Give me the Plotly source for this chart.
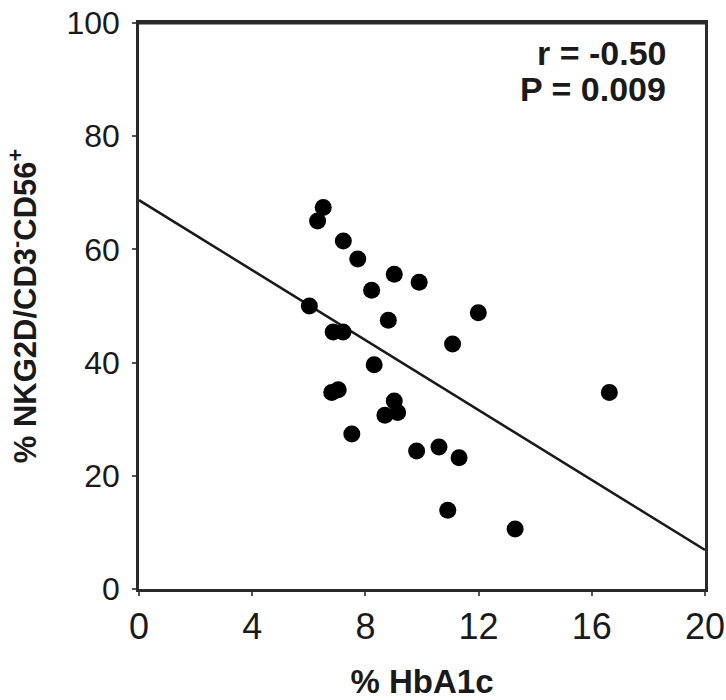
import plotly.graph_objects as go

# Data
hba1c = [6.51, 6.31, 7.22, 7.73, 9.02, 9.90, 8.22, 6.02, 11.99, 8.81,
         6.86, 7.21, 11.08, 8.31, 6.81, 7.04, 9.02, 8.69, 9.14, 7.52,
         9.81, 10.60, 11.31, 10.91, 13.29, 16.62]
nkg2d = [67.4, 65.0, 61.5, 58.3, 55.6, 54.2, 52.8, 50.0, 48.8, 47.5,
         45.4, 45.4, 43.3, 39.6, 34.7, 35.2, 33.2, 30.7, 31.2, 27.4,
         24.4, 25.1, 23.2, 13.9, 10.6, 34.7]

# Regression line (intercept, slope)
fit_intercept = 68.7
fit_slope = -3.09
fit_x = [0, 20]
fit_y = [fit_intercept + fit_slope * v for v in fit_x]

x_ticks = [0, 4, 8, 12, 16, 20]
y_ticks = [0, 20, 40, 60, 80, 100]

stats_lines = ["r = -0.50", "P = 0.009"]

FONT = "Arial, Liberation Sans, sans-serif"
INK = "#1a1a1a"
FRAME = "#2a2a2a"

fig = go.Figure()
fig.add_trace(go.Scatter(x=fit_x, y=fit_y, mode="lines",
                         line=dict(color=INK, width=2.5),
                         hoverinfo="skip", showlegend=False))
fig.add_trace(go.Scatter(x=hba1c, y=nkg2d, mode="markers",
                         marker=dict(color="black", size=17, line=dict(width=0)),
                         showlegend=False, cliponaxis=False))

fig.update_layout(
    width=726, height=700,
    margin=dict(l=139, r=21, t=23, b=111),
    paper_bgcolor="white", plot_bgcolor="white",
    font=dict(family=FONT, color=INK),
    showlegend=False,
)

# top border of the plot frame, drawn explicitly
fig.add_shape(type="line", xref="paper", yref="paper", x0=0, x1=1, y0=1, y1=1,
              line=dict(color=FRAME, width=3), layer="above")

fig.update_xaxes(
    automargin=False,
    range=[0, 20], tickvals=x_ticks, ticktext=[str(v) for v in x_ticks],
    showgrid=False, zeroline=False,
    showline=True, linecolor=FRAME, linewidth=2.5, mirror=True,
    ticks="outside", ticklen=4, tickwidth=1.5, tickcolor="#555",
    tickfont=dict(size=36, family=FONT, color=INK),
    title=dict(text="<b>% HbA1c</b>", font=dict(size=33, family=FONT, color=INK),
               standoff=24),
)
fig.update_yaxes(
    automargin=False,
    range=[0, 100], tickvals=y_ticks, ticktext=[str(v) for v in y_ticks],
    showgrid=False, zeroline=False,
    showline=True, linecolor=FRAME, linewidth=2.5, mirror=True,
    ticks="outside", ticklen=4, tickwidth=1.5, tickcolor="#555",
    tickfont=dict(size=32, family=FONT, color=INK),
    ticklabelstandoff=6,
    title=dict(text="<b>% NKG2D/CD3<sup>-</sup>CD56<sup>+</sup></b>",
               font=dict(size=31, family=FONT, color=INK), standoff=21),
)

ys = [0.947, 0.883]
for txt, yy in zip(stats_lines, ys):
    fig.add_annotation(x=0.934, y=yy, xref="paper", yref="paper",
                       xanchor="right", yanchor="middle", showarrow=False,
                       text="<b>" + txt + "</b>",
                       font=dict(size=34, family=FONT, color=INK))

fig.write_html(
    "out.html",
    config={"displayModeBar": False},
    post_script="document.body.style.margin='0';document.body.style.overflow='hidden';",
)
